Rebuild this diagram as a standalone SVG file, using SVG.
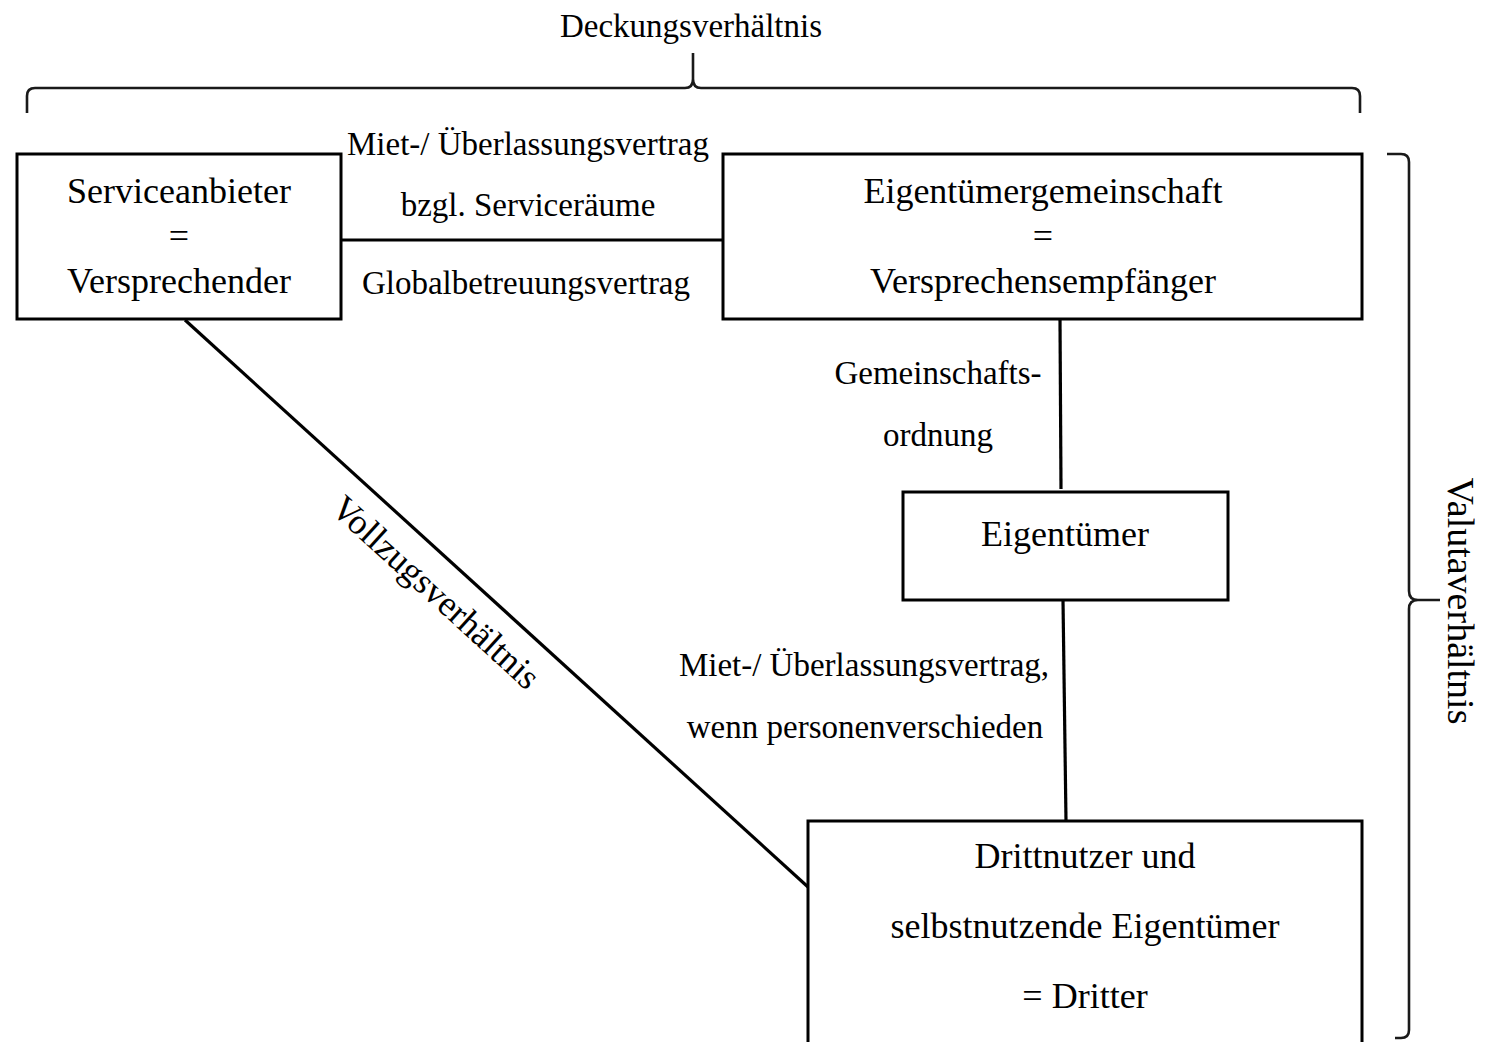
<svg xmlns="http://www.w3.org/2000/svg" width="1493" height="1042" viewBox="0 0 1493 1042">
<style>
  .box { fill: #ffffff; stroke: #000000; stroke-width: 3; }
  .conn { fill: none; stroke: #000000; stroke-width: 3.2; }
  .brace { fill: none; stroke: #1a1a1a; stroke-width: 2.6; }
  text { font-family: "Liberation Serif", "Times New Roman", serif; fill: #000000; text-anchor: middle; }
  .n { font-size: 36px; }
  .l { font-size: 33px; }
</style>
<rect x="0" y="0" width="1493" height="1042" fill="#ffffff"/>

<g id="connectors">
  <line class="conn" x1="341" y1="240" x2="723" y2="240"/>
  <line class="conn" x1="1060" y1="320" x2="1061" y2="489"/>
  <line class="conn" x1="1063" y1="600" x2="1066" y2="821"/>
  <line class="conn" x1="185" y1="320" x2="808" y2="887"/>
</g>

<g id="brace-top">
  <path class="brace" d="M27,113 V96 Q27,88 35,88 H685 Q693,88 693,79 V53 M693,79 Q693,88 701,88 H1352 Q1360,88 1360,96 V113"/>
  <text class="l" x="691" y="37">Deckungsverhältnis</text>
</g>

<g id="brace-right">
  <path class="brace" d="M1387,154 H1401 Q1409,154 1409,162 V591 Q1409,600 1418,600 H1440 M1418,600 Q1409,600 1409,609 V1030 Q1409,1038 1401,1038 H1395"/>
  <text class="n" style="font-size:38px" transform="translate(1448,601) rotate(90)" x="0" y="0">Valutaverhältnis</text>
</g>

<g id="node-serviceanbieter">
  <rect class="box" x="17" y="154" width="324" height="165"/>
  <text class="n" x="179" y="203">Serviceanbieter</text>
  <text class="n" x="179" y="248">=</text>
  <text class="n" x="179" y="293">Versprechender</text>
</g>

<g id="node-eigentuemergemeinschaft">
  <rect class="box" x="723" y="154" width="639" height="165"/>
  <text class="n" x="1043" y="203">Eigentümergemeinschaft</text>
  <text class="n" x="1043" y="248">=</text>
  <text class="n" x="1043" y="293">Versprechensempfänger</text>
</g>

<g id="node-eigentuemer">
  <rect class="box" x="903" y="492" width="325" height="108"/>
  <text class="n" x="1065" y="546">Eigentümer</text>
</g>

<g id="node-dritter">
  <path class="box" d="M808,1050 V821 H1362 V1050"/>
  <text class="n" x="1085" y="868">Drittnutzer und</text>
  <text class="n" x="1085" y="938">selbstnutzende Eigentümer</text>
  <text class="n" x="1085" y="1008">= Dritter</text>
</g>

<g id="labels">
  <text class="l" x="528" y="155">Miet-/ Überlassungsvertrag</text>
  <text class="l" x="528" y="216">bzgl. Serviceräume</text>
  <text class="l" x="526" y="294">Globalbetreuungsvertrag</text>
  <text class="l" x="938" y="384">Gemeinschafts-</text>
  <text class="l" x="938" y="446">ordnung</text>
  <text class="l" x="864" y="676">Miet-/ Überlassungsvertrag,</text>
  <text class="l" x="865" y="738">wenn personenverschieden</text>
  <text class="n" transform="translate(428,601) rotate(42.4)" x="0" y="0">Vollzugsverhältnis</text>
</g>
</svg>
